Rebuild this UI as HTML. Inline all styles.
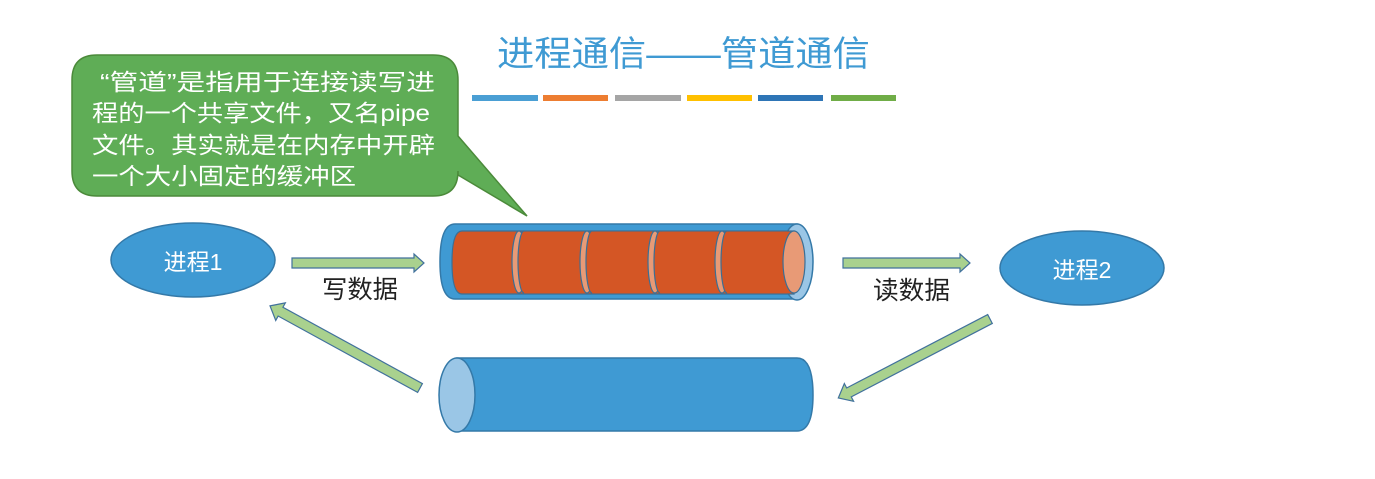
<!DOCTYPE html>
<html><head><meta charset="utf-8"><style>
html,body{margin:0;padding:0;background:#fff;width:1375px;height:479px;overflow:hidden}
svg{display:block}
text{font-family:"Liberation Sans","Noto Sans CJK SC",sans-serif}
</style></head><body>
<svg width="1375" height="479" viewBox="0 0 1375 479" xmlns="http://www.w3.org/2000/svg">
<!-- title -->
<text x="497" y="66" font-size="35" fill="#3f9ad3" textLength="373" lengthAdjust="spacingAndGlyphs">进程通信——管道通信</text>
<g>
<rect x="472" y="95" width="66" height="6" fill="#4a9fd4"/>
<rect x="543" y="95" width="65" height="6" fill="#ed7d31"/>
<rect x="615" y="95" width="66" height="6" fill="#a5a5a5"/>
<rect x="687" y="95" width="65" height="6" fill="#ffc000"/>
<rect x="758" y="95" width="65" height="6" fill="#2e75b6"/>
<rect x="831" y="95" width="65" height="6" fill="#70ad47"/>
</g>
<!-- callout -->
<path d="M97,55 H433 Q458,55 458,80 V136 L527,216 L458,175 V171 Q458,196 433,196 H97 Q72,196 72,171 V80 Q72,55 97,55 Z" fill="#5fad56" stroke="#4b8a3a" stroke-width="1.5"/>
<g font-size="23" fill="#fff">
<text x="100" y="90" textLength="335" lengthAdjust="spacingAndGlyphs">“管道”是指用于连接读写进</text>
<text x="92" y="121" textLength="338" lengthAdjust="spacingAndGlyphs">程的一个共享文件，又名pipe</text>
<text x="92" y="153" textLength="343" lengthAdjust="spacingAndGlyphs">文件。其实就是在内存中开辟</text>
<text x="92" y="184" textLength="264" lengthAdjust="spacingAndGlyphs">一个大小固定的缓冲区</text>
</g>
<!-- processes -->
<ellipse cx="193" cy="260" rx="82" ry="37" fill="#3f9ad3" stroke="#3479a8" stroke-width="1.5"/>
<text x="193" y="270" text-anchor="middle" font-size="23" fill="#fff">进程1</text>
<ellipse cx="1082" cy="268" rx="82" ry="37" fill="#3f9ad3" stroke="#3479a8" stroke-width="1.5"/>
<text x="1082" y="278" text-anchor="middle" font-size="23" fill="#fff">进程2</text>
<!-- top pipe -->
<path d="M455,224 H797 V299 H455 Q440,299 440,262 Q440,224 455,224 Z" fill="#3f9ad3" stroke="#3479a8" stroke-width="1.5"/>
<ellipse cx="797" cy="262" rx="16" ry="38" fill="#9ac6e6" stroke="#3479a8" stroke-width="1.5"/>
<g stroke="#3b6f95" stroke-width="1.2">
<path d="M462,231 H794 V294 H462 Q452,294 452,262 Q452,231 462,231 Z" fill="#d45625"/>
<ellipse cx="519" cy="262" rx="7" ry="31" fill="#e89a76"/>
<ellipse cx="524" cy="262" rx="6" ry="31" fill="#d45625"/>
<rect x="524" y="231.6" width="60" height="61.8" fill="#d45625" stroke="none"/>
<ellipse cx="587" cy="262" rx="7" ry="31" fill="#e89a76"/>
<ellipse cx="592" cy="262" rx="6" ry="31" fill="#d45625"/>
<rect x="592" y="231.6" width="60" height="61.8" fill="#d45625" stroke="none"/>
<ellipse cx="655" cy="262" rx="7" ry="31" fill="#e89a76"/>
<ellipse cx="660" cy="262" rx="6" ry="31" fill="#d45625"/>
<rect x="660" y="231.6" width="58" height="61.8" fill="#d45625" stroke="none"/>
<ellipse cx="722" cy="262" rx="7" ry="31" fill="#e89a76"/>
<ellipse cx="727" cy="262" rx="6" ry="31" fill="#d45625"/>
<rect x="727" y="231.6" width="60" height="61.8" fill="#d45625" stroke="none"/>
<ellipse cx="794" cy="262" rx="11" ry="31" fill="#e89a76"/>
</g>
<!-- bottom pipe -->
<path d="M457,358 H797 Q813,358 813,395 Q813,431 797,431 H457 Z" fill="#3f9ad3" stroke="#3479a8" stroke-width="1.5"/>
<ellipse cx="457" cy="395" rx="18" ry="37" fill="#9ac6e6" stroke="#3479a8" stroke-width="1.5"/>
<!-- arrows -->
<g fill="#a9d18e" stroke="#41719c" stroke-width="1.2">
<path d="M292,258 H414 V254 L424,263 L414,272 V268 H292 Z"/>
<path d="M843,258 H960 V254 L970,263 L960,272 V268 H843 Z"/>
<g transform="translate(420,388) rotate(208.7)"><path d="M0,-5 H159 V-10 L171,0 L159,10 V5 H0 Z"/></g>
<g transform="translate(990,319) rotate(152.5)"><path d="M0,-5 H159 V-10 L171,0 L159,10 V5 H0 Z"/></g>
</g>
<text x="322" y="298" font-size="25" fill="#222" textLength="76" lengthAdjust="spacingAndGlyphs">写数据</text>
<text x="873" y="299" font-size="25" fill="#222" textLength="77" lengthAdjust="spacingAndGlyphs">读数据</text>
</svg>
</body></html>
